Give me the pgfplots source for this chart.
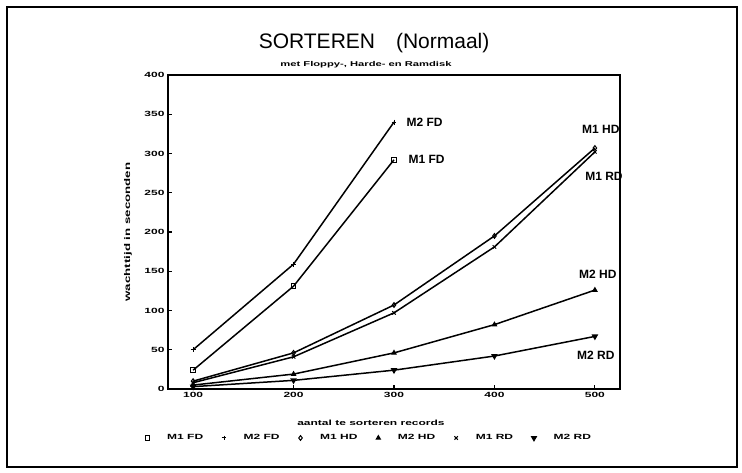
\documentclass[border=0pt]{standalone}
\usepackage{fontspec}
\setmainfont{Liberation Sans}
\newfontfamily\wide[FakeStretch=1.6]{Liberation Sans}
\usepackage{pgfplots}
\pgfplotsset{compat=1.18}

\newcommand{\smallwide}{\wide\bfseries\fontsize{7.5}{8}\selectfont}
\newcommand{\lbl}{\bfseries\fontsize{12}{14}\selectfont}

\begin{document}
\begin{tikzpicture}
\useasboundingbox (-168pt,-83pt) rectangle (574pt,389pt);
\draw[line width=1.4pt] (-161pt,-78pt) rectangle (569pt,382pt);
\begin{axis}[
    scale only axis,
    width=452pt,
    height=314pt,
    at={(0pt,0pt)},
    anchor=south west,
    clip=false,
    xmin=75, xmax=525,
    ymin=0, ymax=400,
    xtick={100,200,300,400,500},
    ytick={0,50,100,150,200,250,300,350,400},
    tick pos=left,
    tick align=inside,
    major tick length=4pt,
    axis line style={line width=1.3pt},
    every tick/.style={black, line width=1.2pt},
    /pgf/number format/assume math mode=true,
    tick label style={font=\smallwide},
    xlabel={aantal te sorteren records},
    ylabel={wachttijd in seconden},
    every axis x label/.style={at={(axis description cs:0.449,-0.108)}, anchor=center, font=\smallwide},
    every axis y label/.style={at={(axis description cs:-0.0885,0.5)}, rotate=90, anchor=center, font=\wide\bfseries\fontsize{8.3}{9}\selectfont},
    every axis plot/.append style={black, line width=1.5pt, mark size=2.4pt, mark options={solid, line width=1pt}},
    legend columns=6,
    legend style={draw=none, fill=none, inner sep=0pt, at={(axis description cs:-0.052,-0.156)}, anchor=west,
        font=\smallwide, /tikz/every even column/.append style={column sep=16pt}},
    legend image code/.code={\path[draw=none, fill=none] (0cm,0cm) -- (0.72cm,0cm);
        \draw[#1, only marks] plot coordinates {(0.1cm,0cm)};},
]
% M1 FD
\addplot[mark=square] coordinates {(100,24) (200,131) (300,292)};
% M2 FD
\addplot[mark=+] coordinates {(100,50) (200,159) (300,340)};
% M1 HD
\addplot[mark=diamond] coordinates {(100,10) (200,46) (300,107) (400,195) (500,307)};
% M2 HD
\addplot[mark=triangle*] coordinates {(100,5) (200,19) (300,46) (400,82) (500,126)};
% M1 RD
\addplot[mark=x] coordinates {(100,8) (200,41) (300,97) (400,181) (500,302)};
% M2 RD
\addplot[mark=triangle*, mark options={rotate=180}] coordinates {(100,3) (200,11) (300,24) (400,42) (500,67)};
\legend{M1 FD, M2 FD, M1 HD, M2 HD, M1 RD, M2 RD}

\node[anchor=base, font=\fontsize{21}{23}\selectfont] at (axis description cs:0.456,1.086) {SORTEREN\quad(Normaal)};
\node[font=\wide\bfseries\fontsize{7}{8}\selectfont] at (axis description cs:0.438,1.032) {met Floppy-, Harde- en Ramdisk};
\node[anchor=west, font=\lbl] at (axis cs:309,340) {M2 FD};
\node[anchor=west, font=\lbl] at (axis cs:311,293) {M1 FD};
\node[font=\lbl] at (axis cs:506,331) {M1 HD};
\node[font=\lbl] at (axis cs:509,271) {M1 RD};
\node[font=\lbl] at (axis cs:503,146) {M2 HD};
\node[font=\lbl] at (axis cs:501,43) {M2 RD};
\end{axis}
\end{tikzpicture}
\end{document}
